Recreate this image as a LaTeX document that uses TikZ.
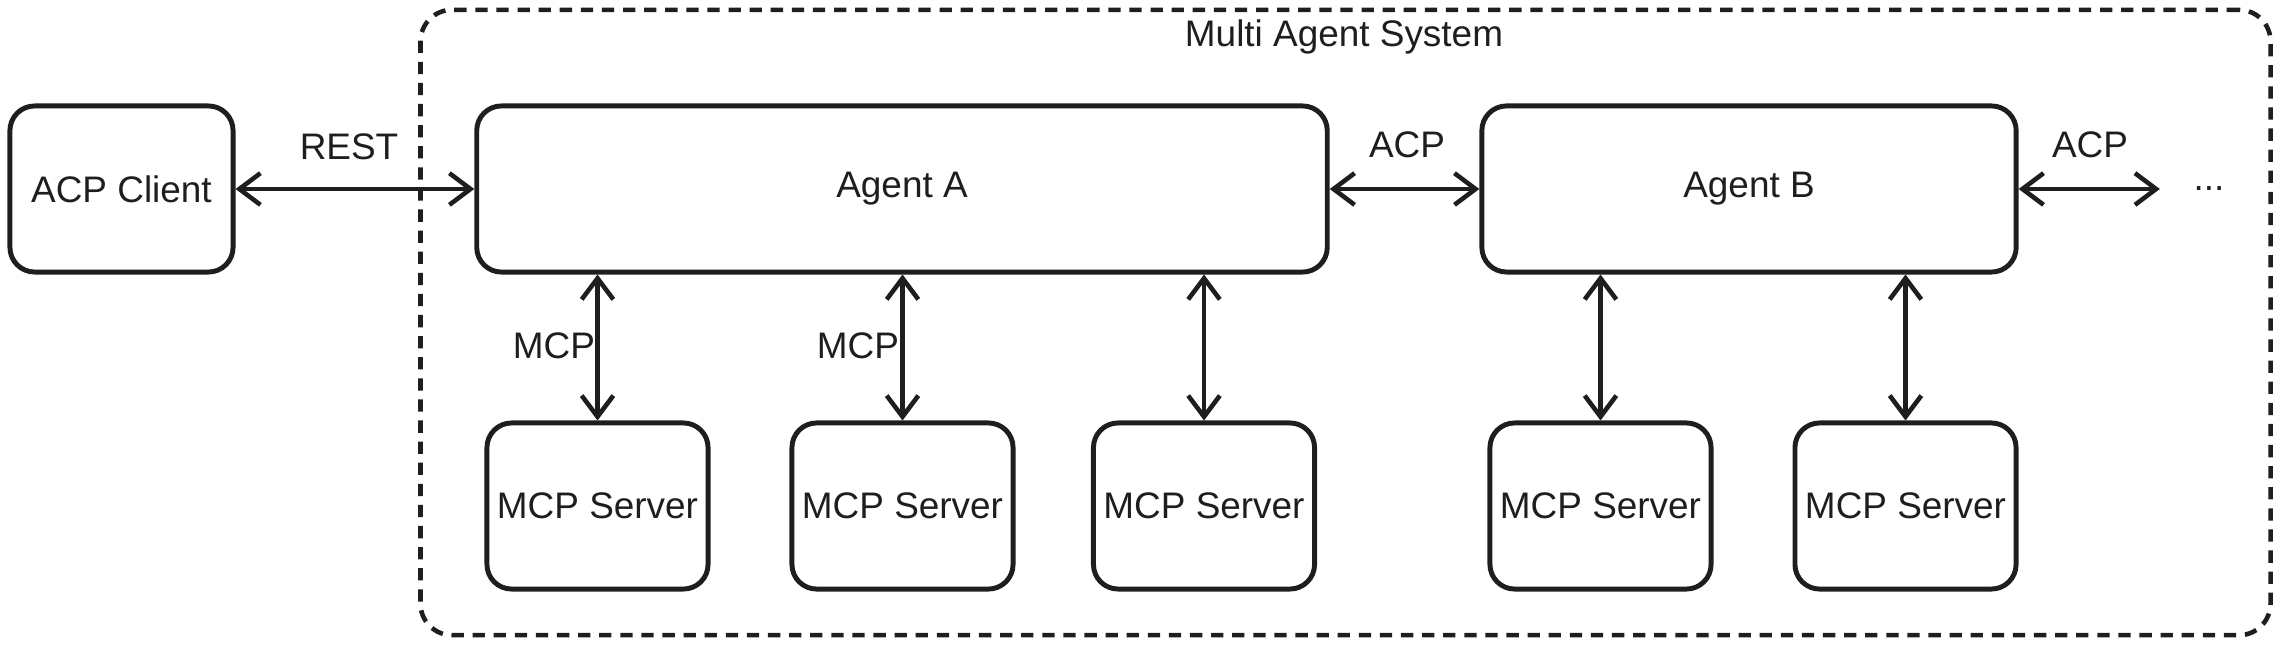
\documentclass[tikz,border=0pt]{standalone}
\usepackage{fontspec}
\setmainfont{Liberation Sans}
\usetikzlibrary{arrows.meta}
\definecolor{ink}{HTML}{1E1E1E}

\begin{document}
\begin{tikzpicture}[x=0.01cm, y=-0.01cm, ink,
		box/.style={shape=rectangle, draw, rounded corners=7pt, line width=1.4pt, inner sep=0pt, minimum height=1.66cm, font=\fontsize{10.5}{12}\selectfont},
		link/.style={{Straight Barb[length=6pt,width=9pt]}-{Straight Barb[length=6pt,width=9pt]}, line width=1.3pt},
		tag/.style={font=\fontsize{10.5}{12}\selectfont}]
			\useasboundingbox (0,0) rectangle (2279,646);
			\coordinate (system) at (1345.5,322.5);
			\coordinate (client) at (121.5,189);
			\coordinate (agent1) at (902,189);
			\coordinate (agent2) at (1749,189);
			\draw node (mas) at (system) [shape=rectangle, draw, dash pattern=on 3.5pt off 2.5pt, line width=1.3pt, rounded corners=9pt, minimum width=18.49cm, minimum height=6.25cm] {}
				node (title) at (1344,37) [tag] {Multi Agent System};
			\draw node (acpclient) at (client) [box, minimum width=2.23cm] {ACP Client}
				node (agentA) at (agent1) [box, minimum width=8.50cm] {Agent A}
				node (agentB) at (agent2) [box, minimum width=5.34cm] {Agent B}
				node (dots) at (2209,189) [tag, inner xsep=9.4pt] {...};
			\foreach \name/\x in {srvA1/597.5, srvA2/902.5, srvA3/1204, srvB1/1600.5, srvB2/1905.5}
				\node (\name) at (\x,506) [box, minimum width=2.21cm] {MCP Server};
			\draw [link] (acpclient.east) -- (agentA.west) node (rest) at (349,147) [tag] {REST};
			\draw [link] (agentA.east) -- (agentB.west) node (acp1) at (1407,145) [tag] {ACP};
			\draw [link] (agentB.east) -- (dots.west) node (acp2) at (2090,145) [tag] {ACP};
			\foreach \name/\top in {srvA1/agentA, srvA2/agentA, srvA3/agentA, srvB1/agentB, srvB2/agentB}
				\draw [link] (\name.north |- \top.south) -- (\name.north);
			\draw node (mcp1) at (554,346) [tag] {MCP}
				node (mcp2) at (858,346) [tag] {MCP};
		\end{tikzpicture}
\end{document}
